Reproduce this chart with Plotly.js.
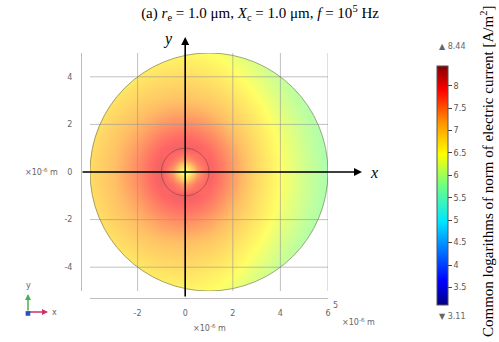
<!DOCTYPE html>
<html>
<head>
<meta charset="utf-8">
<script src="https://cdn.plot.ly/plotly-3.0.1.min.js"></script>
<style>
  html, body { margin: 0; padding: 0; background: #fff; }
  #plot { width: 499px; height: 342px; }
</style>
</head>
<body>
<div id="plot"></div>
<script>
// Sample positions of the field (µm)
const xCoords = [-4, -3, -2, -1.5, -1, -0.5, 0, 0.5, 1, 1.5, 2, 3, 4, 5, 6];
const yCoords = [-5, -4, -3, -2, -1.5, -1, -0.5, 0, 0.5, 1, 1.5, 2, 3, 4, 5];

// log10 |J| [A/m^2] along rows of constant y (|y| given in the name)
const rowY0   = [6.85, 7.15, 7.60, 7.85, 8.05, 7.40, 6.00, 7.37, 7.99, 7.75, 7.45, 6.88, 6.47, 6.10, 5.80];
const rowY05  = [6.84, 7.14, 7.57, 7.81, 8.00, 7.81, 7.40, 7.78, 7.94, 7.71, 7.42, 6.87, 6.46, 6.10, 5.80];
const rowY1   = [6.81, 7.10, 7.48, 7.70, 7.88, 8.00, 8.05, 7.97, 7.82, 7.60, 7.33, 6.83, 6.43, 6.08, 5.79];
const rowY15  = [6.77, 7.05, 7.35, 7.54, 7.70, 7.81, 7.85, 7.78, 7.64, 7.44, 7.20, 6.78, 6.39, 6.05, 5.77];
const rowY2   = [6.71, 6.97, 7.22, 7.35, 7.48, 7.57, 7.60, 7.54, 7.42, 7.25, 7.07, 6.70, 6.33, 6.00, 5.75];
const rowY3   = [6.55, 6.78, 6.97, 7.05, 7.10, 7.14, 7.15, 7.11, 7.04, 6.95, 6.82, 6.51, 6.17, 5.89, 5.69];
const rowY4   = [6.39, 6.55, 6.71, 6.77, 6.81, 6.84, 6.85, 6.81, 6.75, 6.67, 6.56, 6.28, 6.01, 5.79, 5.63];
const rowY5   = [6.24, 6.34, 6.45, 6.50, 6.53, 6.55, 6.55, 6.52, 6.47, 6.40, 6.30, 6.07, 5.86, 5.69, 5.56];

// rows ordered as yCoords (bottom to top)
const logJ = [rowY5, rowY4, rowY3, rowY2, rowY15, rowY1, rowY05, rowY0,
              rowY05, rowY1, rowY15, rowY2, rowY3, rowY4, rowY5];

const colorMin = 3.11;
const colorMax = 8.44;
const colorTicks = [3.5, 4, 4.5, 5, 5.5, 6, 6.5, 7, 7.5, 8];

const xTicks = [-2, 0, 2, 4, 6];
const xTickText = ['-2', '0', '2', '4', '6'];
const yTicks = [-4, -2, 0, 2, 4];
const yTickText = ['-4', '-2', '0', '2', '4'];

// domain geometry
const disk = { cx: 1, cy: 0, r: 5 };
const electrode = { cx: 0, cy: 0, r: 1 };

const rainbow = [
  [0.00, 'rgb(0,0,130)'],
  [0.10, 'rgb(0,0,255)'],
  [0.35, 'rgb(0,230,255)'],
  [0.50, 'rgb(110,255,130)'],
  [0.63, 'rgb(255,255,0)'],
  [0.76, 'rgb(255,150,0)'],
  [0.90, 'rgb(255,0,0)'],
  [1.00, 'rgb(130,0,0)']
];

const W = 499, H = 342;
const px = v => v / W;          // paper x from pixel column
const py = v => (H - v) / H;    // paper y from pixel row

const field = {
  type: 'heatmap',
  x: xCoords, y: yCoords, z: logJ,
  zsmooth: 'best',
  colorscale: rainbow,
  zmin: colorMin, zmax: colorMax,
  opacity: 0.6,
  hoverinfo: 'skip',
  colorbar: {
    x: px(437), xanchor: 'left',
    y: py(185.5), yanchor: 'middle',
    thickness: 11, thicknessmode: 'pixels',
    len: 239, lenmode: 'pixels',
    xpad: 0, ypad: 0,
    outlinewidth: 1, outlinecolor: '#555',
    tickvals: colorTicks,
    ticks: 'outside', ticklen: 4, tickcolor: '#444',
    tickfont: { family: 'DejaVu Sans', size: 8, color: '#555' }
  }
};

// circle as cubic Bezier path (path shapes take no arc command)
function circlePath(c) {
  const k = 0.5523 * c.r;
  const x = c.cx, y = c.cy, r = c.r;
  return `M ${x + r},${y} ` +
    `C ${x + r},${y + k} ${x + k},${y + r} ${x},${y + r} ` +
    `C ${x - k},${y + r} ${x - r},${y + k} ${x - r},${y} ` +
    `C ${x - r},${y - k} ${x - k},${y - r} ${x},${y - r} ` +
    `C ${x + k},${y - r} ${x + r},${y - k} ${x + r},${y} Z`;
}

const xMin = disk.cx - disk.r, xMax = disk.cx + disk.r;
const yMin = disk.cy - disk.r, yMax = disk.cy + disk.r;

const shapes = [];
// white mask outside the disk
shapes.push({
  type: 'path', xref: 'x', yref: 'y', layer: 'above',
  path: `M ${xMin - 1},${yMin - 1} H ${xMax + 1} V ${yMax + 1} H ${xMin - 1} Z ` + circlePath(disk),
  fillcolor: '#ffffff', fillrule: 'evenodd', line: { width: 0 }
});
// grid
const gridColor = 'rgba(150,150,150,0.6)';
xTicks.forEach(t => shapes.push({
  type: 'line', xref: 'x', yref: 'y', layer: 'above',
  x0: t, x1: t, y0: yMin, y1: yMax, line: { color: gridColor, width: 1 }
}));
yTicks.forEach(t => shapes.push({
  type: 'line', xref: 'x', yref: 'y', layer: 'above',
  x0: xMin, x1: xMax, y0: t, y1: t, line: { color: gridColor, width: 1 }
}));
// disk boundary and electrode boundary
shapes.push({
  type: 'circle', xref: 'x', yref: 'y', layer: 'above',
  x0: xMin, x1: xMax, y0: yMin, y1: yMax,
  line: { color: 'rgba(110,110,70,0.6)', width: 1 }
});
shapes.push({
  type: 'circle', xref: 'x', yref: 'y', layer: 'above',
  x0: electrode.cx - electrode.r, x1: electrode.cx + electrode.r,
  y0: electrode.cy - electrode.r, y1: electrode.cy + electrode.r,
  line: { color: 'rgba(110,50,50,0.45)', width: 1 }
});

const grayFont = { family: 'DejaVu Sans', size: 8, color: '#666' };
const serif = 'Liberation Serif, Times New Roman, serif';

// text label centred on a point
function label(xref, x, yref, y, text, font, extra) {
  return Object.assign({ xref, yref, x, y, text, font, showarrow: false,
    xanchor: 'center', yanchor: 'middle' }, extra || {});
}
// arrow with no text
function arrow(xref, x, yref, y, ax, ay, color, width, size) {
  return { xref, yref, x, y, ax, ay, text: '', showarrow: true,
    arrowhead: 2, arrowsize: size, arrowwidth: width, arrowcolor: color, standoff: 0 };
}

const annotations = [
  // coordinate axes through the origin
  arrow('paper', px(362), 'y', 0, -281, 0, '#000', 1.6, 1),
  arrow('x', 0, 'paper', py(37), 0, 261, '#000', 1.6, 1),
  label('paper', px(374), 'y', 0, '<i>x</i>', { family: serif, size: 16, color: '#000' }),
  label('paper', px(168), 'paper', py(39), '<i>y</i>', { family: serif, size: 16, color: '#000' }),

  // unit labels
  label('paper', px(41), 'y', 0, '×10<sup>-6</sup> m', grayFont),
  label('paper', px(209), 'paper', py(328), '×10<sup>-6</sup> m', grayFont),
  label('paper', px(335), 'paper', py(305), '5', grayFont),
  label('paper', px(358), 'paper', py(322), '×10<sup>-6</sup> m', grayFont),

  // colour range extremes
  label('paper', px(437), 'paper', py(46), '▲ 8.44', grayFont, { xanchor: 'left' }),
  label('paper', px(437), 'paper', py(316), '▼ 3.11', grayFont, { xanchor: 'left' }),

  // colour bar title
  label('paper', px(487), 'paper', py(172),
    'Common logarithms of norm of electric current [A/m<sup>2</sup>]',
    { family: serif, size: 15, color: '#000' }, { textangle: -90 }),

  // orientation triad
  arrow('paper', px(28), 'paper', py(294), 0, 18, '#4caf50', 1.5, 0.8),
  arrow('paper', px(48), 'paper', py(312), -20, 0, '#d0306a', 1.5, 0.8),
  label('paper', px(28), 'paper', py(312), '■', { family: 'DejaVu Sans', size: 6, color: '#3050c0' }),
  label('paper', px(28), 'paper', py(285), 'y', grayFont),
  label('paper', px(54), 'paper', py(312), 'x', grayFont)
];

const layout = {
  width: W, height: H,
  margin: { l: 0, r: 0, t: 0, b: 0 },
  paper_bgcolor: '#fff', plot_bgcolor: '#fff',
  showlegend: false,
  title: {
    text: '(a) <i>r</i><sub>e</sub> = 1.0 μm, <i>X</i><sub>c</sub> = 1.0 μm, <i>f</i> = 10<sup>5</sup> Hz',
    x: px(260), xanchor: 'center', xref: 'paper',
    y: py(13), yanchor: 'middle', yref: 'container',
    font: { family: serif, size: 15, color: '#000' }
  },
  xaxis: {
    domain: [px(90), px(328)], range: [xMin, xMax],
    anchor: 'free', position: py(298),
    showline: true, linecolor: '#bdbdbd', linewidth: 1,
    showgrid: false, zeroline: false,
    tickvals: xTicks, ticktext: xTickText, ticks: '',
    ticklabelstandoff: 7,
    tickfont: grayFont, fixedrange: true
  },
  yaxis: {
    domain: [py(291), py(53)], range: [yMin, yMax],
    anchor: 'free', position: px(81),
    showline: true, linecolor: '#bdbdbd', linewidth: 1,
    showgrid: false, zeroline: false,
    tickvals: yTicks, ticktext: yTickText, ticks: '',
    ticklabelstandoff: 7,
    tickfont: grayFont, fixedrange: true
  },
  shapes: shapes,
  annotations: annotations
};

Plotly.newPlot('plot', [field], layout, { displayModeBar: false, staticPlot: true });
</script>
</body>
</html>
